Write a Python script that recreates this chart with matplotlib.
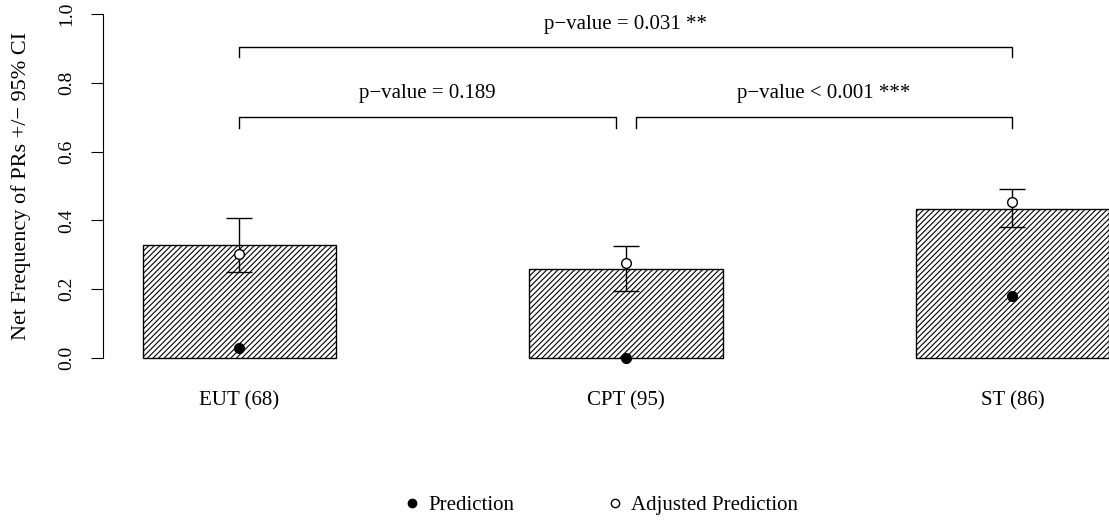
import matplotlib.pyplot as plt
from matplotlib.lines import Line2D
import numpy as np

plt.rcParams['font.family'] = ['Liberation Serif', 'DejaVu Serif']
plt.rcParams['hatch.linewidth'] = 0.8

# data
groups = ['EUT (68)', 'CPT (95)', 'ST (86)']
net_freq = [0.328, 0.259, 0.433]
prediction = [0.029, 0.0, 0.180]
adjusted = [0.302, 0.276, 0.453]
ci_low = [0.250, 0.195, 0.381]
ci_high = [0.407, 0.326, 0.491]
p_labels = ['p\u2212value = 0.189', 'p\u2212value < 0.001 ***', 'p\u2212value = 0.031 **']

fig = plt.figure(figsize=(11.09, 5.20), dpi=100)
ax = fig.add_axes([103 / 1109, 1 - 358 / 520, 1 - 103 / 1109, 344 / 520])

x = np.arange(len(groups))
ax.bar(x, net_freq, width=0.5, color='white', edgecolor='black', hatch='//////',
       linewidth=1.0, clip_on=False)

adj = np.array(adjusted)
ax.errorbar(x, adj, yerr=[adj - np.array(ci_low), np.array(ci_high) - adj],
            fmt='none', ecolor='black', elinewidth=1.0, capsize=9.4, capthick=1.0)
ax.plot(x, adjusted, 'o', mfc='white', mec='black', ms=7, mew=1.0, ls='none', clip_on=False)
ax.plot(x, prediction, 'o', color='black', ms=7, ls='none', clip_on=False)

# significance brackets
def bracket(x0, x1, y, h, label, ty):
    ax.plot([x0, x0, x1, x1], [y - h, y, y, y - h], color='black', lw=1.0, clip_on=False)
    ax.text((x0 + x1) / 2, ty, label, ha='center', va='center', fontsize=15)

bracket(x[0], x[1] - 0.026, 0.70, 0.03, p_labels[0], 0.768)
bracket(x[1] + 0.026, x[2], 0.70, 0.03, p_labels[1], 0.768)
bracket(x[0], x[2], 0.904, 0.03, p_labels[2], 0.97)

ax.set_xlim(-0.353, 2.25)
ax.set_ylim(0, 1)
for s in ['top', 'right', 'bottom']:
    ax.spines[s].set_visible(False)
ax.spines['left'].set_bounds(0, 1)
ax.set_yticks([0, 0.2, 0.4, 0.6, 0.8, 1.0])
ax.set_yticklabels(['0.0', '0.2', '0.4', '0.6', '0.8', '1.0'], rotation=90, va='center', fontsize=14)
ax.tick_params(axis='y', direction='out', length=9, pad=11)
ax.set_xticks(x)
ax.set_xticklabels(groups, fontsize=15)
ax.tick_params(axis='x', length=0, pad=24)
ax.set_ylabel('Net Frequency of PRs +/\u2212 95% CI', fontsize=16)
ax.yaxis.set_label_coords(-72 / 1006, 0.5)

handles = [Line2D([], [], marker='o', color='black', ls='none', ms=6),
           Line2D([], [], marker='o', mfc='white', mec='black', ls='none', ms=6)]
fig.legend(handles, ['Prediction', 'Adjusted Prediction'], ncol=2, frameon=False,
           loc='center', bbox_to_anchor=(600 / 1109, 1 - 505 / 520), fontsize=15,
           handletextpad=0.3, columnspacing=4.3, handlelength=1.0)

fig.savefig('out.png', dpi=100)
